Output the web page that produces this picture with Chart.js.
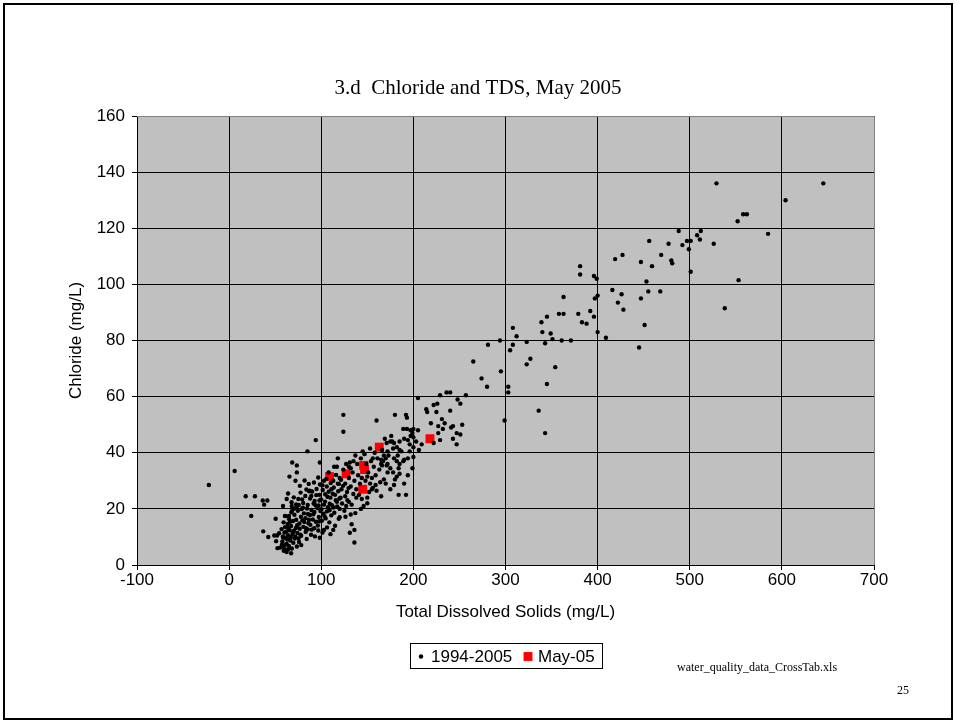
<!DOCTYPE html>
<html>
<head>
<meta charset="utf-8">
<script src="https://cdn.jsdelivr.net/npm/chart.js@4.4.1/dist/chart.umd.min.js"></script>
<style>
  html, body { margin: 0; padding: 0; background: #ffffff; }
  #wrap { width: 958px; height: 722px; position: relative; }
  canvas { display: block; }
</style>
</head>
<body>
<div id="wrap"><canvas id="chart" width="958" height="722"></canvas></div>
<script>
// ---- text ----
const chartTitle = '3.d  Chloride and TDS, May 2005';
const xAxisTitle = 'Total Dissolved Solids (mg/L)';
const yAxisTitle = 'Chloride (mg/L)';
const seriesNames = ['1994-2005', 'May-05'];
const sourceFile = 'water_quality_data_CrossTab.xls';
const pageNumber = '25';

// ---- axis ticks ----
const xTicks = [-100, 0, 100, 200, 300, 400, 500, 600, 700];
const yTicks = [0, 20, 40, 60, 80, 100, 120, 140, 160];

// ---- samples: [TDS mg/L, chloride mg/L] ----
const samplesHighRange = [
  [529,136],[645,136],[604,130],[552,122.5],[558,125],[562,125],[585,118],[488,119],
  [508,117.5],[512,119],[511,116],[497,115.5],[501,115.5],[499,112.5],[492,114],[477,114.5],
  [456,115.5],[526,114.5],[469,110.5],[480,108.5],[481,107.5],[447,108],[459,106.5],[419,109],
  [427,110.5],[501,104.5],[553,101.5],[538,91.5],[453,101],[455,97.5],[468,97.5],[447,95],
  [416,98],[426,96.5],[422,93.5],[428,91],[451,85.5],[445,77.5],[409,81],[400,83],
  [396,103],[399,102],[381,103.5],[381,106.5],[397,95],[400,96],[392,90.5],[396,88.5],
  [383,86.5],[388,86],[379,89.5],[363,95.5],[358,89.5],[363,89.5],[345,88.5],[339,86.5],
  [340,83],[349,82.5],[351,80.5],[361,80],[371,80],[343,79],[308,84.5],[312,81.5],
  [323,79.5],[308,78.5],[305,76.5],[294,80],[281,78.5],[327,73.5],[323,71.5],[354,70.5],
  [265,72.5],[274,66.5],[280,63.5],[295,69],[303,63.5],[303,61.5],[345,64.5],[257,60.5],
  [236,61.5],[240,61.5],[229,60.5]
];

const samplesMidRange = [
  [299,51.5],[336,55],[343,47],[222,57],[226,57.5],[248,59],[251,57.5],[205,59.5],
  [214,55.5],[215,54.5],[225,54.5],[240,55],[231,52],[234,50.5],[227,49.5],[232,48.5],
  [219,50.5],[241,49],[243,49.5],[253,50],[227,47],[247,47],[251,46.5],[243,45],
  [247,43],[229,44.5],[222,43.5],[209,43],[180,53.5],[192,53.5],[193,52.5],[160,51.5],
  [124,53.5],[124,47.5],[94,44.5],[85,40.5],[189,48.5],[193,48.5],[197,48],[200,48.5],
  [205,48],[199,47],[197,46],[200,45.5],[194,44.5],[185,44],[177,44],[175,44],
  [179,43.5],[171,43.5],[182,42],[178,41.5],[153,41.5],[145,40.5],[172,40.5],[185,41],
  [196,40.5],[200,42],[187,40.5],[169,45],[176,46],[190,45],[196,43],[203,44],
  [206,41],[166,41]
];

const samplesLowRange = [
  [147,39.5],[200,38.5],[170,38],[179,38],[182,37],[189,37],[190,37.5],[185,36],
  [165,37.5],[167,37],[165,36],[166,35.5],[156,38],[154,37],[135,37],[131,36.5],
  [130,35],[132,34.5],[137,39],[117,35],[171,35.5],[175,34.5],[184,34.5],[199,34.5],
  [194,32],[190,29],[192,25],[165,24.5],[184,25],[180,30.5],[182,31.5],[185,32.5],
  [168,30.5],[170,29],[172,33],[159,28.5],[164,29.5],[156,27.5],[150,24],[144,23.5],
  [138,24],[143,20],[137,18.5],[132,18],[133,14.5],[136,12.5],[131,11.5],[136,8],
  [119,16.5],[120,17],[115,14],[113,12.5],[110,11],[103,12.5],[150,31.5],[155,27],
  [160,26.5],[126,24.5],[130,22.5],[127,21],[133,21.5],[117,22.5],[113,20.5],[109,19.5],
  [120,20],[146,21],[150,22],[179,28.5],[175,27],[103,30],[106,28],[108,33],
  [111,27],[113,30],[115,25],[118,29],[120,31],[122,27],[124,34],[126,29],
  [128,26],[130,31],[132,28],[134,33],[136,30],[138,27],[140,32],[142,29],
  [144,31],[148,30],[151,33],[153,29],[157,35],[159,32],[161,38],[163,34],
  [168,39],[172,36],[110,24],[114,35],[118,38],[121,24],[127,36],[139,36],
  [141,25],[143,38],[149,36],[152,26],[155,31],[158,40],[173,39],[178,33],
  [183,39],[194,38]
];

const samplesLowTds = [
  [-22,28.5],[6,33.5],[18,24.5],[28,24.5],[24,17.5],[36.5,23],[41.5,23],[38,21.5],
  [37,12],[42.5,10],[50.5,16.5],[58.5,21],[68,21],[68.5,36.5],[73.5,35.5],[73.5,33],
  [65.5,31.5],[72,30],[98.5,36.5],[87.5,26.5],[98,25],[98,23],[64,25.5],[62.5,23.5],
  [68.5,19.5],[60.5,17.5],[65,17.5],[49,10.5],[52,10.5],[51,8.5],[52.5,6],[59,6.5],
  [60.5,5.5],[64,5.5],[62.5,7.5]
];

// dense core of low-TDS samples
const samplesCluster = [
  [55.5,6.2],[57.8,8.4],[59.3,5.1],[61.7,7.3],[63.2,9.1],[64.8,6.8],[66.4,8.7],[68.1,5.9],
  [69.7,7.9],[71.2,9.4],[73.6,6.6],[75.9,8.2],[78.3,7.1],[58.6,9.8],[62.4,4.6],[67.3,4.2],
  [54.2,11.3],[56.9,12.8],[58.4,10.2],[60.7,13.5],[62.1,11.9],[63.9,10.6],[65.6,12.4],[67.2,13.9],
  [68.8,10.9],[70.3,12.2],[72.5,13.2],[74.1,11.4],[76.7,12.9],[78.2,10.4],[80.6,13.6],[83.1,11.8],
  [85.4,12.7],[88.9,10.8],[92.3,13.1],[96.8,12.3],[61.5,9.6],[66.9,9.9],[71.8,10.1],[75.3,9.5],
  [59.1,15.2],[61.8,17.4],[63.5,14.6],[65.2,16.3],[67.6,18.8],[69.4,15.7],[70.9,17.9],[72.8,16.1],
  [74.6,19.3],[76.3,14.8],[77.9,17.2],[79.5,15.9],[81.2,18.4],[82.8,16.7],[84.5,20.1],[86.1,14.9],
  [87.7,17.8],[89.3,19.6],[90.8,16.2],[92.6,18.9],[94.2,15.4],[95.9,20.3],[97.4,17.1],[99.1,19.2],
  [100.7,15.8],[102.4,18.3],[104.8,16.6],[107.3,20.6],[110.9,17.7],[73.4,20.8],[80.1,20.4],[88.2,14.3],
  [96.3,14.1],[85.6,18.2],[78.7,19.9],
  [67.8,22.4],[70.2,24.1],[72.7,21.6],[75.1,23.5],[77.6,25.8],[80.4,22.1],[82.7,24.6],[85.3,21.4],
  [87.9,23.7],[90.1,26.2],[92.8,22.8],[94.6,24.9],[97.2,21.2],[99.8,23.4],[101.6,26.7],[104.1,22.6],
  [106.7,24.3],[109.2,21.8],[112.5,25.4],[115.8,23.1],[118.4,26.3],[83.9,26.9],[91.7,21.9],[102.9,21.5],
  [76.8,28.2],[81.9,30.1],[86.4,28.9],[92.1,29.4],[96.7,31.2],[101.2,28.4],[105.6,30.7],[110.3,29.2],
  [116.1,32.1],[121.4,30.4],
  [83.4,13.1],[86.7,16.1],[89.6,12.6],[91.4,18.1],[93.8,21.3],[97.9,15.6],[100.2,19.9],[103.6,17.4],
  [106.1,19.1],[108.8,15.2],[111.7,21.3],[114.2,18.6],[117.3,20.9],[119.8,23.7],[122.6,21.9],[125.1,19.3],
  [128.4,23.1],[123.7,28.2],[119.1,28.9],[113.6,27.6],[108.1,26.1],[104.3,25.2],[98.6,28.7],[94.9,27.1],
  [89.2,24.6],[86.9,26.3],[79.2,23.4],[75.6,21.4],[70.8,20.1],[66.1,15.4],[64.2,13.2],[60.1,11.6],
  [57.3,7.2],[69.2,11.6],[73.9,14.2],[77.4,10.8],[81.6,15.3],[84.2,9.3],[93.1,10.2],[98.4,9.7],
  [106.3,13.4],[101.4,11.6],[129.6,27.4],[134.8,25.3],[126.3,17.2]
];

const samplesMay05 = [
  [109,31.5],[127,32.5],[146,35.5],[147,34],[145,27],[163,42],[218,45]
];

const samples1994to2005 = [
  ...samplesHighRange, ...samplesMidRange, ...samplesLowRange, ...samplesLowTds, ...samplesCluster
];

const toXY = pairs => pairs.map(([x, y]) => ({ x, y }));

// ---- page furniture: plot background, plot frame, title, legend box, footer, page border ----
const pageDecor = {
  id: 'pageDecor',
  beforeDraw(chart) {
    const { ctx, chartArea: a } = chart;
    ctx.save();
    ctx.fillStyle = '#ffffff';
    ctx.fillRect(0, 0, chart.width, chart.height);
    ctx.fillStyle = '#c0c0c0';
    ctx.fillRect(a.left, a.top, a.right - a.left, a.bottom - a.top);
    ctx.restore();
  },
  beforeDatasetsDraw(chart) {
    const { ctx, chartArea: a } = chart;
    ctx.save();
    ctx.strokeStyle = '#808080';
    ctx.lineWidth = 1;
    ctx.beginPath();
    ctx.moveTo(a.left, a.top + 0.5);
    ctx.lineTo(a.right + 0.5, a.top + 0.5);
    ctx.lineTo(a.right + 0.5, a.bottom);
    ctx.stroke();
    ctx.restore();
  },
  afterDraw(chart) {
    const { ctx } = chart;
    const sets = chart.data.datasets;
    ctx.save();

    // title
    ctx.fillStyle = '#000000';
    ctx.font = '21px "Liberation Serif", "Times New Roman", serif';
    ctx.textAlign = 'center';
    ctx.textBaseline = 'alphabetic';
    ctx.fillText(chartTitle, 478, 94);

    // legend box
    ctx.strokeStyle = '#000000';
    ctx.lineWidth = 1;
    ctx.strokeRect(410.5, 643.5, 192, 25);
    ctx.font = '17px "Liberation Sans", Arial, sans-serif';
    ctx.textAlign = 'left';
    const items = [
      { ds: sets[0], mx: 421, tx: 431 },
      { ds: sets[1], mx: 528, tx: 538 }
    ];
    items.forEach(({ ds, mx, tx }) => {
      ctx.fillStyle = ds.backgroundColor;
      Chart.helpers.drawPoint(ctx, {
        pointStyle: ds.pointStyle, radius: ds.pointRadius, rotation: 0, borderWidth: 0
      }, mx, 656.5);
      ctx.fillStyle = '#000000';
      ctx.fillText(ds.label, tx, 662);
    });

    // footer text
    ctx.font = '12px "Liberation Serif", "Times New Roman", serif';
    ctx.fillText(sourceFile, 677, 671);
    ctx.fillText(pageNumber, 897, 694);

    // page border
    ctx.lineWidth = 2;
    ctx.strokeRect(4, 4, 948, 715);
    ctx.restore();
  }
};

const sansFont = { family: '"Liberation Sans", Arial, sans-serif', size: 17 };

new Chart(document.getElementById('chart'), {
  type: 'scatter',
  data: {
    datasets: [
      {
        label: seriesNames[0],
        data: toXY(samples1994to2005),
        pointStyle: 'circle',
        pointRadius: 2.2,
        pointHoverRadius: 2.2,
        backgroundColor: '#000000',
        borderWidth: 0
      },
      {
        label: seriesNames[1],
        data: toXY(samplesMay05),
        pointStyle: 'rect',
        pointRadius: 6.3,
        pointHoverRadius: 6.3,
        backgroundColor: '#ff0000',
        borderWidth: 0
      }
    ]
  },
  options: {
    responsive: false,
    animation: false,
    devicePixelRatio: 1,
    events: [],
    layout: { padding: { top: 116, left: 0, right: 84, bottom: 97 } },
    plugins: {
      legend: { display: false },
      tooltip: { enabled: false },
      title: { display: false }
    },
    scales: {
      x: {
        type: 'linear',
        position: 'bottom',
        min: xTicks[0],
        max: xTicks[xTicks.length - 1],
        afterBuildTicks(scale) { scale.ticks = xTicks.map(v => ({ value: v })); },
        afterFit(scale) { scale.height = 60; },
        ticks: { color: '#000000', font: sansFont, padding: 0, maxRotation: 0 },
        grid: { color: '#000000', lineWidth: 1, drawTicks: true, tickLength: 5, tickColor: '#000000' },
        border: { display: true, color: '#000000', width: 1 },
        title: { display: true, text: xAxisTitle, color: '#000000', font: sansFont, padding: { top: 0, bottom: 2 } }
      },
      y: {
        type: 'linear',
        position: 'left',
        min: yTicks[0],
        max: yTicks[yTicks.length - 1],
        afterBuildTicks(scale) { scale.ticks = yTicks.map(v => ({ value: v })); },
        afterFit(scale) { scale.width = 137; },
        ticks: { color: '#000000', font: sansFont, padding: 7 },
        grid: { color: '#000000', lineWidth: 1, drawTicks: true, tickLength: 5, tickColor: '#000000' },
        border: { display: true, color: '#000000', width: 1 },
        title: { display: true, text: yAxisTitle, color: '#000000', font: sansFont, padding: { top: 66, bottom: 0 } }
      }
    }
  },
  plugins: [pageDecor]
});
</script>
</body>
</html>
